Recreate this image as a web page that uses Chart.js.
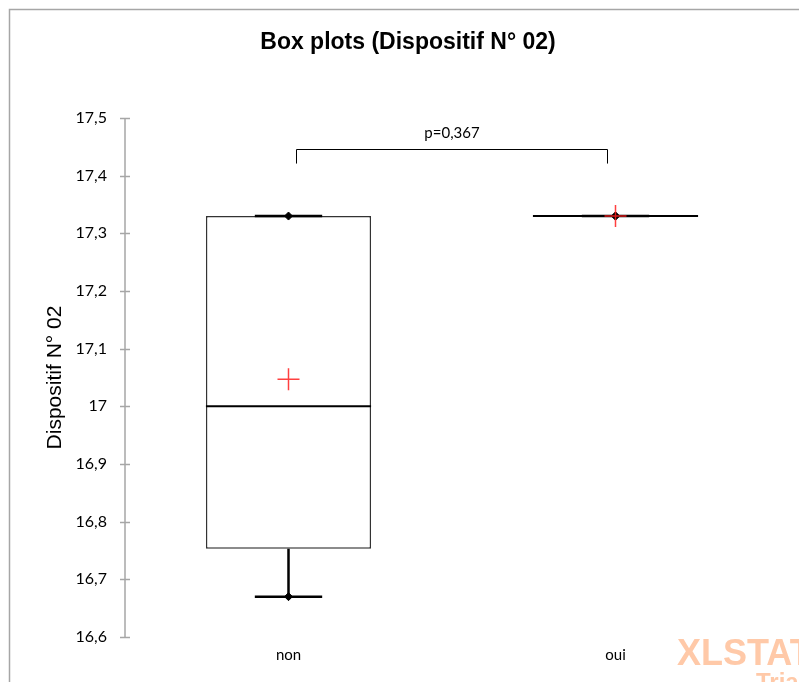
<!DOCTYPE html>
<html lang="fr">
<head>
    <meta charset="UTF-8">
    <title>Box plots (Dispositif N° 02)</title>
    <script src="https://cdn.jsdelivr.net/npm/chart.js"></script>
    <style>
        html, body { margin: 0; padding: 0; background: #fff; }
        #wrap { width: 799px; height: 682px; }
    </style>
</head>
<body>
    <div id="wrap"><canvas id="chart" width="799" height="682"></canvas></div>
    <script>
        // data
        const categories = ['non', 'oui'];
        const minValues = [16.67, 17.33];
        const q1Values = [16.753, 17.33];
        const medianValues = [17.0, 17.33];
        const q3Values = [17.33, 17.33];
        const maxValues = [17.33, 17.33];
        const meanValues = [17.047, 17.33];
        const yTicks = [16.6, 16.7, 16.8, 16.9, 17.0, 17.1, 17.2, 17.3, 17.4, 17.5];
        const pValueText = 'p=0,367';

        const labelFont = 'Lato, "Liberation Sans", sans-serif';

        // whiskers, medians, axis, bracket and watermark drawn with the chart's scales
        const boxExtras = {
            id: 'boxExtras',
            beforeDraw(chart) {
                const ctx = chart.ctx;
                ctx.save();
                ctx.fillStyle = '#fff';
                ctx.fillRect(0, 0, chart.width, chart.height);
                // outer frame
                ctx.strokeStyle = '#a6a6a6';
                ctx.lineWidth = 1.5;
                ctx.beginPath();
                ctx.moveTo(9.5, chart.height + 5);
                ctx.lineTo(9.5, 9.5);
                ctx.lineTo(chart.width + 5, 9.5);
                ctx.stroke();
                ctx.restore();
            },
            afterDatasetDraw(chart, args) {
                if (args.meta.type !== 'bar') return;
                const ctx = chart.ctx;
                const x = chart.scales.x, y = chart.scales.y;
                ctx.save();
                args.meta.data.forEach((bar, i) => {
                    const cx = x.getPixelForValue(i);
                    const half = bar.width / 2;
                    const capHalf = x.width / categories.length * 0.103;
                    ctx.strokeStyle = '#000';
                    ctx.lineWidth = 2.5;
                    // lower whisker
                    ctx.beginPath();
                    ctx.moveTo(cx, y.getPixelForValue(q1Values[i]));
                    ctx.lineTo(cx, y.getPixelForValue(minValues[i]));
                    ctx.moveTo(cx - capHalf, y.getPixelForValue(minValues[i]));
                    ctx.lineTo(cx + capHalf, y.getPixelForValue(minValues[i]));
                    // upper whisker
                    ctx.moveTo(cx, y.getPixelForValue(q3Values[i]));
                    ctx.lineTo(cx, y.getPixelForValue(maxValues[i]));
                    ctx.moveTo(cx - capHalf, y.getPixelForValue(maxValues[i]));
                    ctx.lineTo(cx + capHalf, y.getPixelForValue(maxValues[i]));
                    ctx.stroke();
                    // median
                    ctx.lineWidth = 2;
                    ctx.beginPath();
                    ctx.moveTo(cx - half, y.getPixelForValue(medianValues[i]));
                    ctx.lineTo(cx + half, y.getPixelForValue(medianValues[i]));
                    ctx.stroke();
                });
                ctx.restore();
            },
            afterDraw(chart) {
                const ctx = chart.ctx;
                const x = chart.scales.x, y = chart.scales.y;
                ctx.save();
                // y axis line with crossing ticks
                ctx.strokeStyle = '#a6a6a6';
                ctx.lineWidth = 1.5;
                ctx.beginPath();
                ctx.moveTo(y.right, y.getPixelForValue(yTicks[0]));
                ctx.lineTo(y.right, y.getPixelForValue(yTicks[yTicks.length - 1]));
                yTicks.forEach(v => {
                    const py = Math.round(y.getPixelForValue(v)) + 0.5;
                    ctx.moveTo(y.right - 5, py);
                    ctx.lineTo(y.right + 5, py);
                });
                ctx.stroke();

                // p-value bracket
                const x1 = x.getPixelForValue(0) + 8;
                const x2 = x.getPixelForValue(1) - 8;
                const top = Math.round(y.getPixelForValue(17.446)) + 0.5;
                const bot = y.getPixelForValue(17.421);
                ctx.strokeStyle = '#000';
                ctx.lineWidth = 1;
                ctx.beginPath();
                ctx.moveTo(x1, bot);
                ctx.lineTo(x1, top);
                ctx.lineTo(x2, top);
                ctx.lineTo(x2, bot);
                ctx.stroke();
                ctx.fillStyle = '#000';
                ctx.font = '15px ' + labelFont;
                ctx.textAlign = 'center';
                ctx.textBaseline = 'middle';
                ctx.fillText(pValueText, (x1 + x2) / 2, y.getPixelForValue(17.474));

                // watermark
                ctx.fillStyle = '#ffc9a8';
                ctx.textAlign = 'left';
                ctx.textBaseline = 'alphabetic';
                ctx.font = 'bold 36px "Liberation Sans", Arial, sans-serif';
                ctx.fillText('XLSTAT', 677, 665);
                ctx.font = 'bold 24px "Liberation Sans", Arial, sans-serif';
                ctx.fillText('Trial', 756, 690);
                ctx.restore();
            }
        };

        new Chart(document.getElementById('chart').getContext('2d'), {
            type: 'bar',
            data: {
                labels: categories,
                datasets: [
                    {
                        type: 'bar',
                        label: 'box',
                        data: q1Values.map((q1, i) => [q1, q3Values[i]]),
                        backgroundColor: '#fff',
                        borderColor: '#333',
                        borderWidth: 1.5,
                        borderSkipped: false,
                        barPercentage: 0.505,
                        categoryPercentage: 1,
                        order: 10
                    },
                    {
                        type: 'line',
                        label: 'min',
                        data: minValues,
                        showLine: false,
                        pointStyle: 'rectRot',
                        pointRadius: 4,
                        pointBackgroundColor: '#000',
                        pointBorderColor: '#000',
                        order: 2
                    },
                    {
                        type: 'line',
                        label: 'max',
                        data: maxValues,
                        showLine: false,
                        pointStyle: 'rectRot',
                        pointRadius: 4,
                        pointBackgroundColor: '#000',
                        pointBorderColor: '#000',
                        order: 1
                    },
                    {
                        type: 'line',
                        label: 'moyenne',
                        data: meanValues,
                        showLine: false,
                        pointStyle: 'cross',
                        pointRadius: 11,
                        pointBorderWidth: 1.5,
                        pointBorderColor: 'rgba(255,30,30,0.85)',
                        order: 0
                    }
                ]
            },
            options: {
                responsive: false,
                animation: false,
                events: [],
                layout: { padding: { top: 20, left: 37, right: 20, bottom: 0 } },
                plugins: {
                    legend: { display: false },
                    tooltip: { enabled: false },
                    title: {
                        display: true,
                        text: 'Box plots (Dispositif N° 02)',
                        color: '#000',
                        font: { family: '"Liberation Sans", Arial, sans-serif', size: 23, weight: 'bold' },
                        padding: { top: 9, bottom: 61.4 }
                    }
                },
                scales: {
                    x: {
                        grid: { display: false, drawTicks: false },
                        border: { display: false },
                        ticks: { color: '#000', padding: 9, font: { family: labelFont, size: 15 } },
                        afterFit(scale) { scale.height = 45; }
                    },
                    y: {
                        min: 16.6,
                        max: 17.5,
                        afterBuildTicks(scale) { scale.ticks = yTicks.map(v => ({ value: v })); },
                        grid: { display: false, drawTicks: false },
                        border: { display: false },
                        ticks: {
                            color: '#000',
                            padding: 18,
                            font: { family: labelFont, size: 16 },
                            callback: v => (Math.round(v * 10) / 10).toString().replace('.', ',')
                        },
                        title: {
                            display: true,
                            text: 'Dispositif N° 02',
                            color: '#000',
                            font: { family: '"Liberation Sans", Arial, sans-serif', size: 21 },
                            padding: { top: 5.4, bottom: 0 }
                        },
                        afterFit(scale) { scale.width = 88; }
                    }
                }
            },
            plugins: [boxExtras]
        });
    </script>
</body>
</html>
